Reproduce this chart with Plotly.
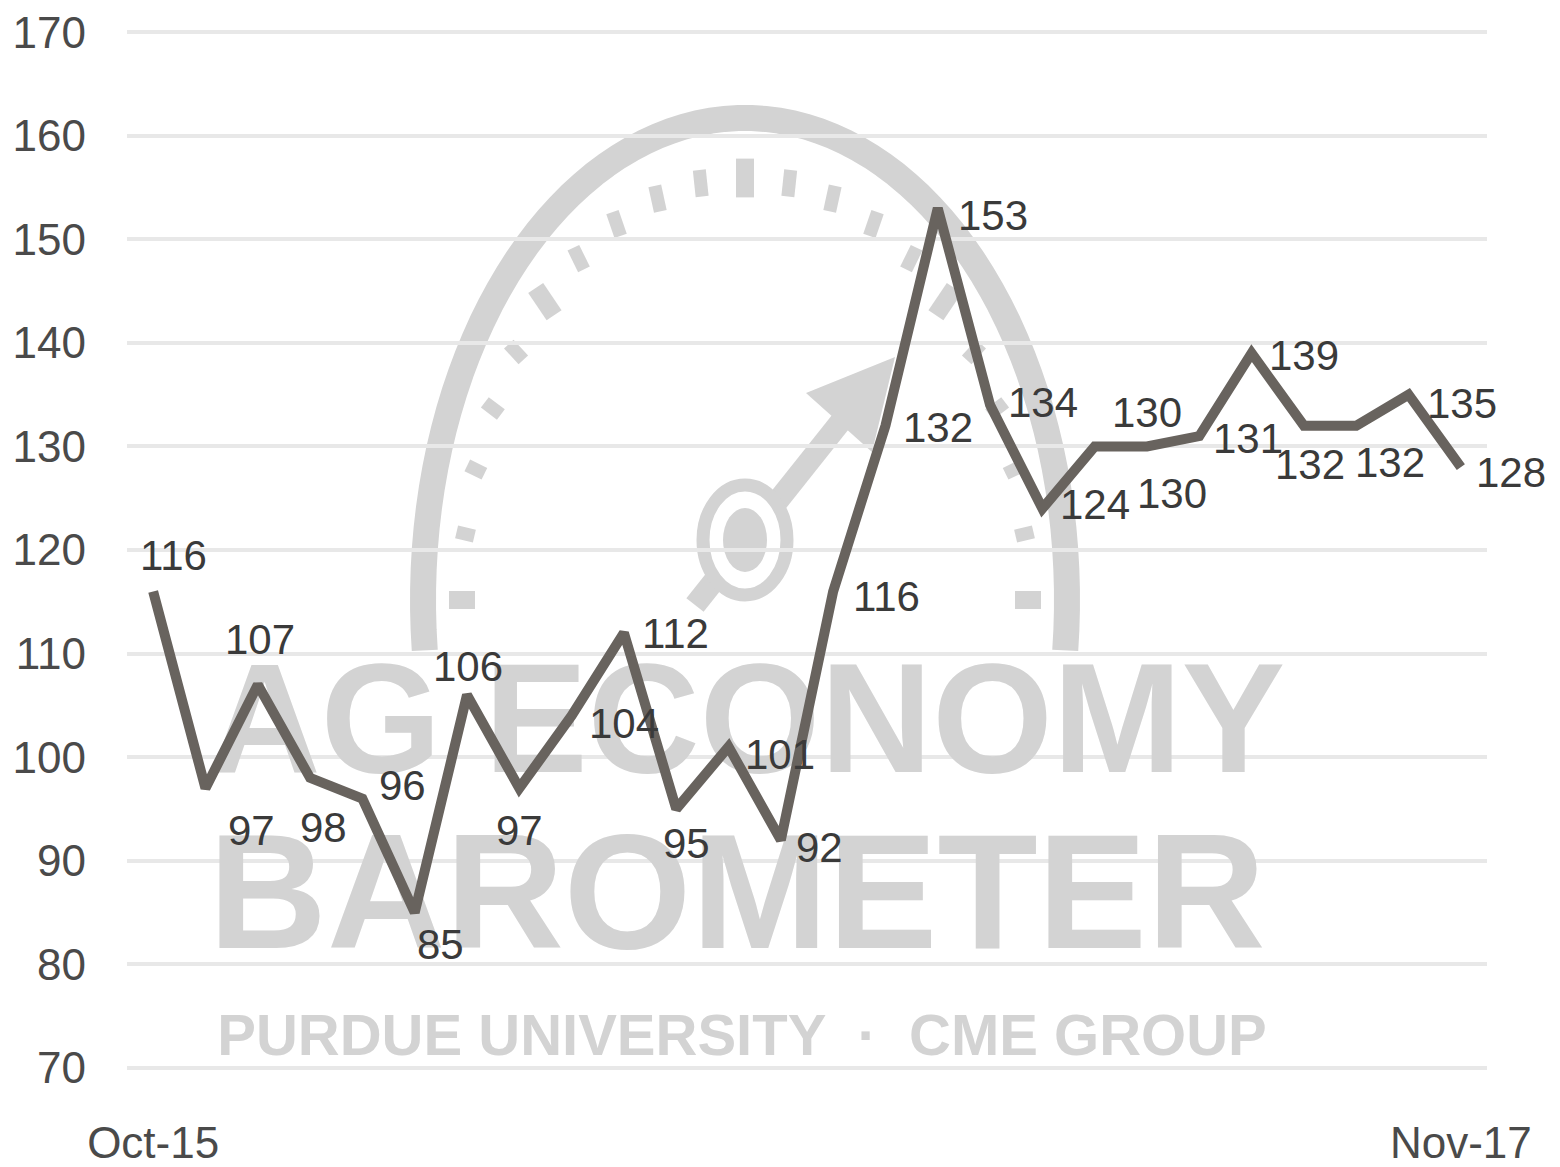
import numpy as np
import plotly.graph_objects as go

# ---------------- data ----------------
months = ["Oct-15", "Nov-15", "Dec-15", "Jan-16", "Feb-16", "Mar-16", "Apr-16", "May-16",
          "Jun-16", "Jul-16", "Aug-16", "Sep-16", "Oct-16", "Nov-16", "Dec-16", "Jan-17",
          "Feb-17", "Mar-17", "Apr-17", "May-17", "Jun-17", "Jul-17", "Aug-17", "Sep-17",
          "Oct-17", "Nov-17"]
values = [116, 97, 107, 98, 96, 85, 106, 97, 104, 112, 95, 101, 92, 116, 132, 153,
          134, 124, 130, 130, 131, 139, 132, 132, 135, 128]
y_ticks = [70, 80, 90, 100, 110, 120, 130, 140, 150, 160, 170]
x_tick_labels = ["Oct-15", "Nov-17"]

# label offsets in pixels (dx right, dy down) - style only
label_dx = [20, 46, 2, 13, 40, 26, 1, 0, 52, 52, 10, 51, 39, 53, 53, 55,
            53, 53, 52, 25, 49, 52, 6, 34, 53, 50]
label_dy = [-36, 42, -45, 50, -13, 32, -29, 42, 8, 1, 35, 8, 7, 5, 2, 7,
            -2, -4, -34, 47, 2, 2, 39, 37, 9, 5]

# ---------------- layout geometry ----------------
W, H = 1560, 1167
L, R, T, B = 127, 73, 29, 96
PX0, PX1 = L, W - R
PY0, PY1 = T, H - B
n = len(values)
xr = [-0.5, n - 0.5]
yr = [69.7, 170.3]

FONT = "Liberation Sans, Arial, sans-serif"
WM = "#d3d3d3"


def pp(px, py):
    """pixel -> paper coords (decoration only)"""
    return (px - PX0) / (PX1 - PX0), (PY1 - py) / (PY1 - PY0)


def pd(px, py):
    """pixel -> data coords (decoration only)"""
    fx, fy = pp(px, py)
    return xr[0] + fx * (xr[1] - xr[0]), yr[0] + fy * (yr[1] - yr[0])


fig = go.Figure()

# ---------------- watermark (text behind line) ----------------
wm_text = ["AG ECONOMY", "BAROMETER", "PURDUE UNIVERSITY  ·  CME GROUP"]
wm_pos = [(747, 733), (737, 907), (742, 1040)]
wm_size = [155, 164, 58]
for t, (px, py), s in zip(wm_text, wm_pos, wm_size):
    x, y = pd(px, py)
    fig.add_trace(go.Scatter(x=[x], y=[y], mode="text", text=[t],
                             textfont=dict(family=FONT, size=s, color=WM, weight="bold"),
                             textposition="middle center", hoverinfo="skip", showlegend=False,
                             cliponaxis=False))

shapes = []
# gauge arc
cx, cy = 745, 600
rx, ry = 322, 482
ang = np.radians(np.linspace(-6, 186, 80))
pts = [pp(cx + rx * np.cos(a), cy - ry * np.sin(a)) for a in ang]
path = "M " + " L ".join(f"{x:.5f},{y:.5f}" for x, y in pts)
shapes.append(dict(type="path", path=path, xref="paper", yref="paper",
                   line=dict(color=WM, width=26), layer="between"))
# gauge ticks
irx, iry = 283, 422
for k, a_deg in enumerate(np.arange(0, 181, 9)):
    a = np.radians(a_deg)
    major = (k % 5 == 0)
    ln = 26 if major else 18
    r0x, r0y = irx - ln / 2, iry - ln / 2 * iry / irx
    r1x, r1y = irx + ln / 2, iry + ln / 2 * iry / irx
    x0, y0 = pp(cx + r0x * np.cos(a), cy - r0y * np.sin(a))
    x1, y1 = pp(cx + r1x * np.cos(a), cy - r1y * np.sin(a))
    shapes.append(dict(type="line", xref="paper", yref="paper", x0=x0, y0=y0, x1=x1, y1=y1,
                       line=dict(color=WM, width=18 if major else 13), layer="between"))
# needle
hx, hy = 745, 540
x0, y0 = pp(695, 605)
x1, y1 = pp(850, 410)
shapes.append(dict(type="line", xref="paper", yref="paper", x0=x0, y0=y0, x1=x1, y1=y1,
                   line=dict(color=WM, width=22), layer="between"))
tri = [pp(895, 357), pp(806, 393), pp(872, 452)]
shapes.append(dict(type="path", xref="paper", yref="paper",
                   path="M " + " L ".join(f"{x:.5f},{y:.5f}" for x, y in tri) + " Z",
                   fillcolor=WM, line=dict(width=0), layer="between"))
# hub
a0 = pp(hx - 42, hy + 55)
a1 = pp(hx + 42, hy - 55)
shapes.append(dict(type="circle", xref="paper", yref="paper", x0=a0[0], y0=a0[1], x1=a1[0], y1=a1[1],
                   fillcolor="white", line=dict(color=WM, width=13), layer="between"))
b0 = pp(hx - 22, hy + 32)
b1 = pp(hx + 22, hy - 32)
shapes.append(dict(type="circle", xref="paper", yref="paper", x0=b0[0], y0=b0[1], x1=b1[0], y1=b1[1],
                   fillcolor=WM, line=dict(width=0), layer="between"))

# ---------------- main line ----------------
xi = list(range(n))
fig.add_trace(go.Scatter(x=xi, y=values, mode="lines",
                         line=dict(color="#68635e", width=10, shape="linear"),
                         hovertext=months, showlegend=False, cliponaxis=False))

annotations = []
for i, v in enumerate(values):
    annotations.append(dict(x=i, y=v, xref="x", yref="y", text=str(v), showarrow=False,
                            xshift=label_dx[i], yshift=-label_dy[i],
                            xanchor="center", yanchor="middle",
                            font=dict(family=FONT, size=42, color="#3a3a3a")))

fig.update_layout(
    width=W, height=H,
    margin=dict(l=L, r=R, t=T, b=B, pad=0, autoexpand=False),
    paper_bgcolor="white", plot_bgcolor="white",
    shapes=shapes, annotations=annotations,
    xaxis=dict(range=xr, tickmode="array", tickvals=[0, n - 1], ticktext=x_tick_labels,
               showgrid=False, zeroline=False, showline=False, ticks="", automargin=False,
               tickfont=dict(family=FONT, size=44, color="#4a4a4a"), ticklabelstandoff=42,
               fixedrange=True),
    yaxis=dict(range=yr, tickmode="array", tickvals=y_ticks, automargin=False,
               showgrid=True, gridcolor="#e8e8e8", gridwidth=4, zeroline=False, showline=False,
               ticks="", tickfont=dict(family=FONT, size=44, color="#4a4a4a"),
               ticklabelstandoff=40, fixedrange=True),
    showlegend=False,
)

fig.write_html("out.html", config={"displayModeBar": False},
               post_script="document.body.style.margin='0';")
